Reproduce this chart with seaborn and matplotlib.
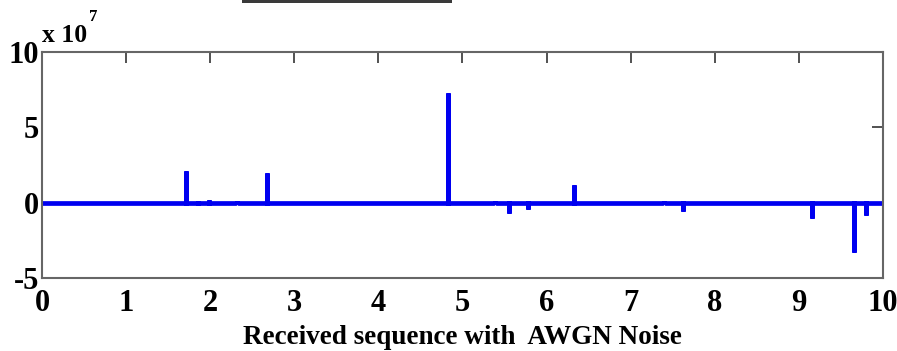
import numpy as np
import matplotlib
matplotlib.use("Agg")
import matplotlib.pyplot as plt
import seaborn as sns
from matplotlib.patches import Rectangle
from matplotlib.ticker import FuncFormatter

sns.set_style("white")
plt.rcParams["font.family"] = ["Liberation Serif", "DejaVu Serif"]
plt.rcParams["font.weight"] = "bold"
plt.rcParams["text.color"] = "black"
plt.rcParams["axes.labelcolor"] = "black"
plt.rcParams["xtick.color"] = "black"
plt.rcParams["ytick.color"] = "black"

# Impulses in the received sequence (time, amplitude)
spike_t = [0.42, 1.37, 1.71, 1.85, 1.99, 2.32, 2.67, 2.92, 4.83, 5.39, 5.55, 5.78,
           6.33, 7.40, 7.62, 9.16, 9.65, 9.80]
spike_amp = [-0.05e7, -0.05e7, 2.1e7, 0.12e7, 0.15e7, -0.06e7, 2.0e7, -0.05e7,
             7.3e7, -0.1e7, -0.72e7, -0.45e7, 1.15e7, -0.12e7, -0.54e7,
             -1.0e7, -3.3e7, -0.8e7]
t_start, t_end = 0.0, 10.0

xticks = list(range(0, 11))
yticks = [-5e7, 0, 5e7, 10e7]

# Build the stem-like trace: baseline at zero with a vertical excursion at each impulse
path_t, path_y = [t_start], [0.0]
for t, a in zip(spike_t, spike_amp):
    path_t += [t, t, t]
    path_y += [0.0, a, 0.0]
path_t.append(t_end)
path_y.append(0.0)

fig = plt.figure(figsize=(8.97, 3.51), dpi=100)
ax = fig.add_axes([0.0468, 0.208, 0.9376, 0.644])

sns.lineplot(x=path_t, y=path_y, sort=False, estimator=None, ax=ax,
             color="#0000f0", lw=3.4, solid_joinstyle="miter")

ax.set_xlim(0, 10)
ax.set_ylim(-5e7, 10e7)
ax.set_xticks(xticks)
ax.set_yticks(yticks)
ax.yaxis.set_major_formatter(FuncFormatter(lambda v, p: f"{v/1e7:g}"))
ax.tick_params(direction="in", length=8, width=1.2, color="#333333",
               labelcolor="black", top=True, right=True, labelsize=22)
ax.tick_params(axis="x", pad=8)
ax.tick_params(axis="y", pad=2)
for lab in ax.get_xticklabels() + ax.get_yticklabels():
    lab.set_fontweight("bold")
for sp in ax.spines.values():
    sp.set_color("#666666")
    sp.set_linewidth(1.5)

ax.set_xlabel("Received sequence with  AWGN Noise", fontsize=19.5,
              fontweight="bold", labelpad=5, color="black")
ax.set_ylabel("")

# Exponent marker for the y axis
fig.text(0.047, 0.865, "x 10", fontsize=18.5, fontweight="bold",
         ha="left", va="bottom", color="black")
fig.text(0.099, 0.93, "7", fontsize=12, fontweight="bold",
         ha="left", va="bottom", color="black")

# Edge of the panel above
fig.patches.append(Rectangle((242 / 897, 1 - 3 / 351), 210 / 897, 3 / 351,
                             transform=fig.transFigure, color="#3a3a3a", lw=0))

fig.savefig("out.png", dpi=100)
